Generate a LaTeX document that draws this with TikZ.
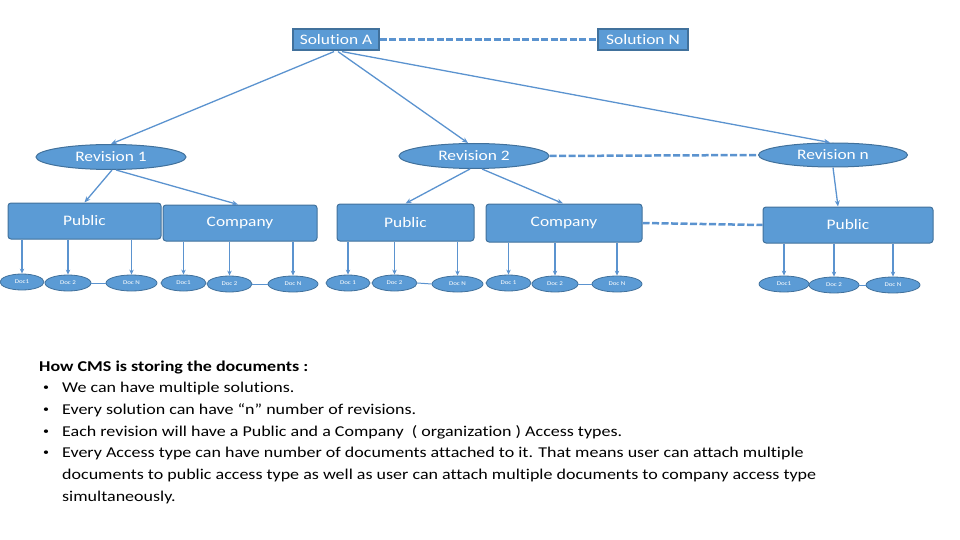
\documentclass[tikz,border=0pt]{standalone}
\usepackage{fontspec}
\setmainfont{Carlito}[FakeStretch=1.2,Ligatures=NoCommon]
\usetikzlibrary{shapes.geometric,arrows.meta,calc}
\definecolor{fillb}{HTML}{5B9BD5}
\definecolor{edgeb}{HTML}{41719C}
\definecolor{lineb}{HTML}{5B93CF}
\tikzset{
  solbox/.style={draw=edgeb,line width=1.2pt,fill=fillb,text=white,minimum width=86pt,minimum height=21pt,inner sep=0pt,font=\fontsize{14.5}{16}\selectfont},
  revell/.style={ellipse,draw=edgeb,line width=1pt,fill=fillb,text=white,minimum width=150pt,minimum height=25pt,inner sep=0pt,font=\fontsize{14.5}{16}\selectfont},
  accbox/.style={draw=edgeb,line width=1pt,fill=fillb,text=white,rounded corners=3pt,minimum height=36pt,inner sep=0pt,font=\fontsize{14.5}{16}\selectfont},
  docell/.style={ellipse,draw=edgeb,line width=0.8pt,fill=fillb,text=white,minimum width=45pt,minimum height=16pt,inner sep=0pt,font=\fontsize{5.8}{6}\selectfont},
  conn/.style={draw=lineb,line width=1.3pt,-{Stealth[length=6pt,width=5pt]}},
  dashconn/.style={draw=lineb,line width=2.5pt,dash pattern=on 7pt off 2.5pt},
  docline/.style={draw=lineb,line width=1pt},
  txt/.style={anchor=base west,inner sep=0pt,font=\fontsize{15}{18}\selectfont,text=black},
  bul/.style={anchor=base west,inner sep=0pt,font=\fontsize{10}{12}\selectfont,text=black}
}
\begin{document}
\begin{tikzpicture}[x=1pt,y=-1pt]
\useasboundingbox (0,0) rectangle (960,540);
% solutions
\node[solbox] (solA) at (336,39.5) {Solution A};
\node[solbox,minimum width=90pt] (solN) at (643,39.5) {Solution N};
% revisions
\node[revell] (rev1) at (111,157) {Revision 1};
\node[revell] (rev2) at (474,156) {Revision 2};
\node[revell,minimum width=149pt,minimum height=24pt] (revn) at (833,155) {Revision n};
% access types
\node[accbox,minimum width=153pt] (pub1) at (84.5,221) {Public};
\node[accbox,minimum width=154pt] (comp1) at (240,223) {Company};
\node[accbox,minimum width=137pt,minimum height=37pt] (pub2) at (405.5,222.5) {Public};
\node[accbox,minimum width=156pt,minimum height=38pt] (comp2) at (564,223) {Company};
\node[accbox,minimum width=170pt] (pubn) at (848,225) {Public};
% docs
\node[docell,minimum width=44pt] (a1) at (22,282) {Doc1};
\node[docell,minimum width=46pt] (a2) at (68,283) {Doc 2};
\node[docell,minimum width=51pt] (aN) at (131.5,283) {Doc N};
\node[docell] (b1) at (183.5,283) {Doc1};
\node[docell] (b2) at (229.5,284) {Doc 2};
\node[docell,minimum width=50pt] (bN) at (293,284) {Doc N};
\node[docell,minimum width=44pt] (c1) at (348,283) {Doc 1};
\node[docell] (c2) at (394.5,283) {Doc 2};
\node[docell,minimum width=51pt] (cN) at (457.5,284) {Doc N};
\node[docell] (e1) at (508.5,283) {Doc 1};
\node[docell,minimum width=46pt] (e2) at (555,284) {Doc 2};
\node[docell,minimum width=50pt] (eN) at (617,284) {Doc N};
\node[docell,minimum width=50pt] (f1) at (784,284) {Doc1};
\node[docell,minimum width=50pt] (f2) at (834,285) {Doc 2};
\node[docell,minimum width=54pt] (fN) at (893,285) {Doc N};
% dashed links
\draw[dashconn] (solA.east) -- (solN.west);
\draw[dashconn] (rev2.east) -- (revn.west);
\draw[dashconn] (comp2.east) -- (pubn.west);
% solution to revisions
\draw[conn] ($(solA.south)+(-2,1)$) -- (rev1.north);
\draw[conn] ($(solA.south)+(2,1)$) -- ($(rev2.north)+(-6,0)$);
\draw[conn] ($(solA.south)+(6,1)$) -- ($(revn.north)+(-3,0)$);
% revisions to access types
\draw[conn] ($(rev1.south)+(1,0)$) -- (pub1.north);
\draw[conn] ($(rev1.south)+(5,0)$) -- ($(comp1.north)+(-2,0)$);
\draw[conn] ($(rev2.south)+(-4,0)$) -- (pub2.north);
\draw[conn] ($(rev2.south)+(8,0)$) -- ($(comp2.north)+(-1,0)$);
\draw[conn] (revn.south) -- ($(pubn.north)+(-10,0)$);
% access types to docs
\foreach \b/\d in {pub1/a1,pub1/a2,pub1/aN,comp1/b1,comp1/b2,comp1/bN,pub2/c1,pub2/c2,pub2/cN,comp2/e1,comp2/e2,comp2/eN,pubn/f1,pubn/f2,pubn/fN}
  \draw[conn,line width=1.1pt,-{Stealth[length=5pt,width=4.5pt]}] (\d.north |- \b.south) -- (\d.north);
% doc links
\draw[docline] (a2.east) -- (aN.west);
\draw[docline] (b2.east) -- (bN.west);
\draw[docline] (c2.east) -- (cN.west);
\draw[docline] (e2.east) -- (eN.west);
\draw[docline] (f2.east) -- (fN.west);
% text
\node[txt,font=\fontsize{15}{18}\selectfont\bfseries] (t0) at (39,371) {How CMS is storing the documents :};
\node[bul] (b1d) at (43,390) {•};
\node[txt] (t1) at (62,392) {We can have multiple solutions.};
\node[bul] (b2d) at (43,412) {•};
\node[txt] (t2) at (62,414) {Every solution can have “n” number of revisions.};
\node[bul] (b3d) at (43,434) {•};
\node[txt] (t3) at (62,436) {Each revision will have a Public and a Company \ ( organization ) Access types.};
\node[bul] (b4d) at (43,455) {•};
\node[txt] (t4) at (62,457) {Every Access type can have number of documents attached to it. That means user can attach multiple};
\node[txt] (t5) at (62,479) {documents to public access type as well as user can attach multiple documents to company access type};
\node[txt] (t6) at (62,501) {simultaneously.};
\end{tikzpicture}
\end{document}
